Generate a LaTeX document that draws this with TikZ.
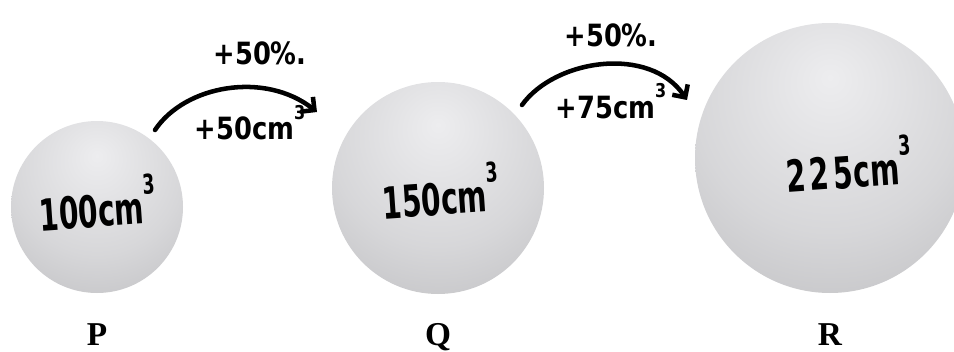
\documentclass[tikz,border=0pt]{standalone}
\usepackage{graphicx}
\usepackage{fontspec}
\setmainfont{Liberation Serif}
\newfontfamily\handfont{DejaVu Sans}[FakeStretch=0.64]
\newfontfamily\notefont{DejaVu Sans}[FakeStretch=0.84]
\usetikzlibrary{arrows.meta}

\definecolor{sphlight}{RGB}{237,237,239}
\definecolor{sphdark}{RGB}{163,163,166}
\pgfdeclareradialshading{spherefill}{\pgfpoint{0bp}{15bp}}{%
  color(0bp)=(sphlight); color(25bp)=(sphlight!70!sphdark);
  color(66bp)=(sphdark); color(100bp)=(sphdark)}
\newcommand{\cubecm}{cm\raisebox{0.66em}{\scalebox{0.62}{3}}}

\begin{document}
\begin{tikzpicture}[x=0.75pt,y=0.75pt]
  \tikzset{
    ball/.style={circle,inner sep=0pt,draw=none,shading=spherefill},
    volume/.style={font=\handfont\bfseries\fontsize{33}{33}\selectfont,anchor=base,rotate=4},
    note/.style={font=\notefont\bfseries\fontsize{23}{23}\selectfont,anchor=base},
    letter/.style={font=\bfseries\fontsize{25}{25}\selectfont,anchor=base},
    growarrow/.style={line width=3.4pt,line cap=round,-{Straight Barb[length=7pt,width=14pt]}}
  }
  \useasboundingbox (0,0) rectangle (954,351);
  % the three spheres, with their letters underneath
  \foreach \name/\x/\y/\r in {P/97/144/86,Q/438/163/106,R/830/193/135}{
    \node[ball,minimum size=\r*1.5pt] (\name) at (\x,\y) {};
    \node[letter] (lab\name) at (\x,6) {\name};
  }
  \node[volume] (volP) at (99,124) {100\cubecm};
  \node[volume] (volQ) at (442,136) {150\cubecm};
  \node[volume] (volR) at (850,163) {2\kern3pt2\kern3pt5\kern1pt\cubecm};

  % growth arrows
  \coordinate (fromP) at (155,221);
  \coordinate (toQ) at (317,239);
  \coordinate (fromQ) at (522,246);
  \coordinate (toR) at (687,251);
  \draw[growarrow] (fromP) .. controls (185,266) and (265,280) .. (toQ);
  \draw[growarrow] (fromQ) .. controls (555,292) and (650,306) .. (toR);
  \node[note] (pctPQ) at (260,286) {+50\%.};
  \node[note] (addPQ) at (250,211) {+50\cubecm};
  \node[note] (pctQR) at (611,304) {+50\%.};
  \node[note] (addQR) at (611,233) {+75\cubecm};
\end{tikzpicture}
\end{document}
